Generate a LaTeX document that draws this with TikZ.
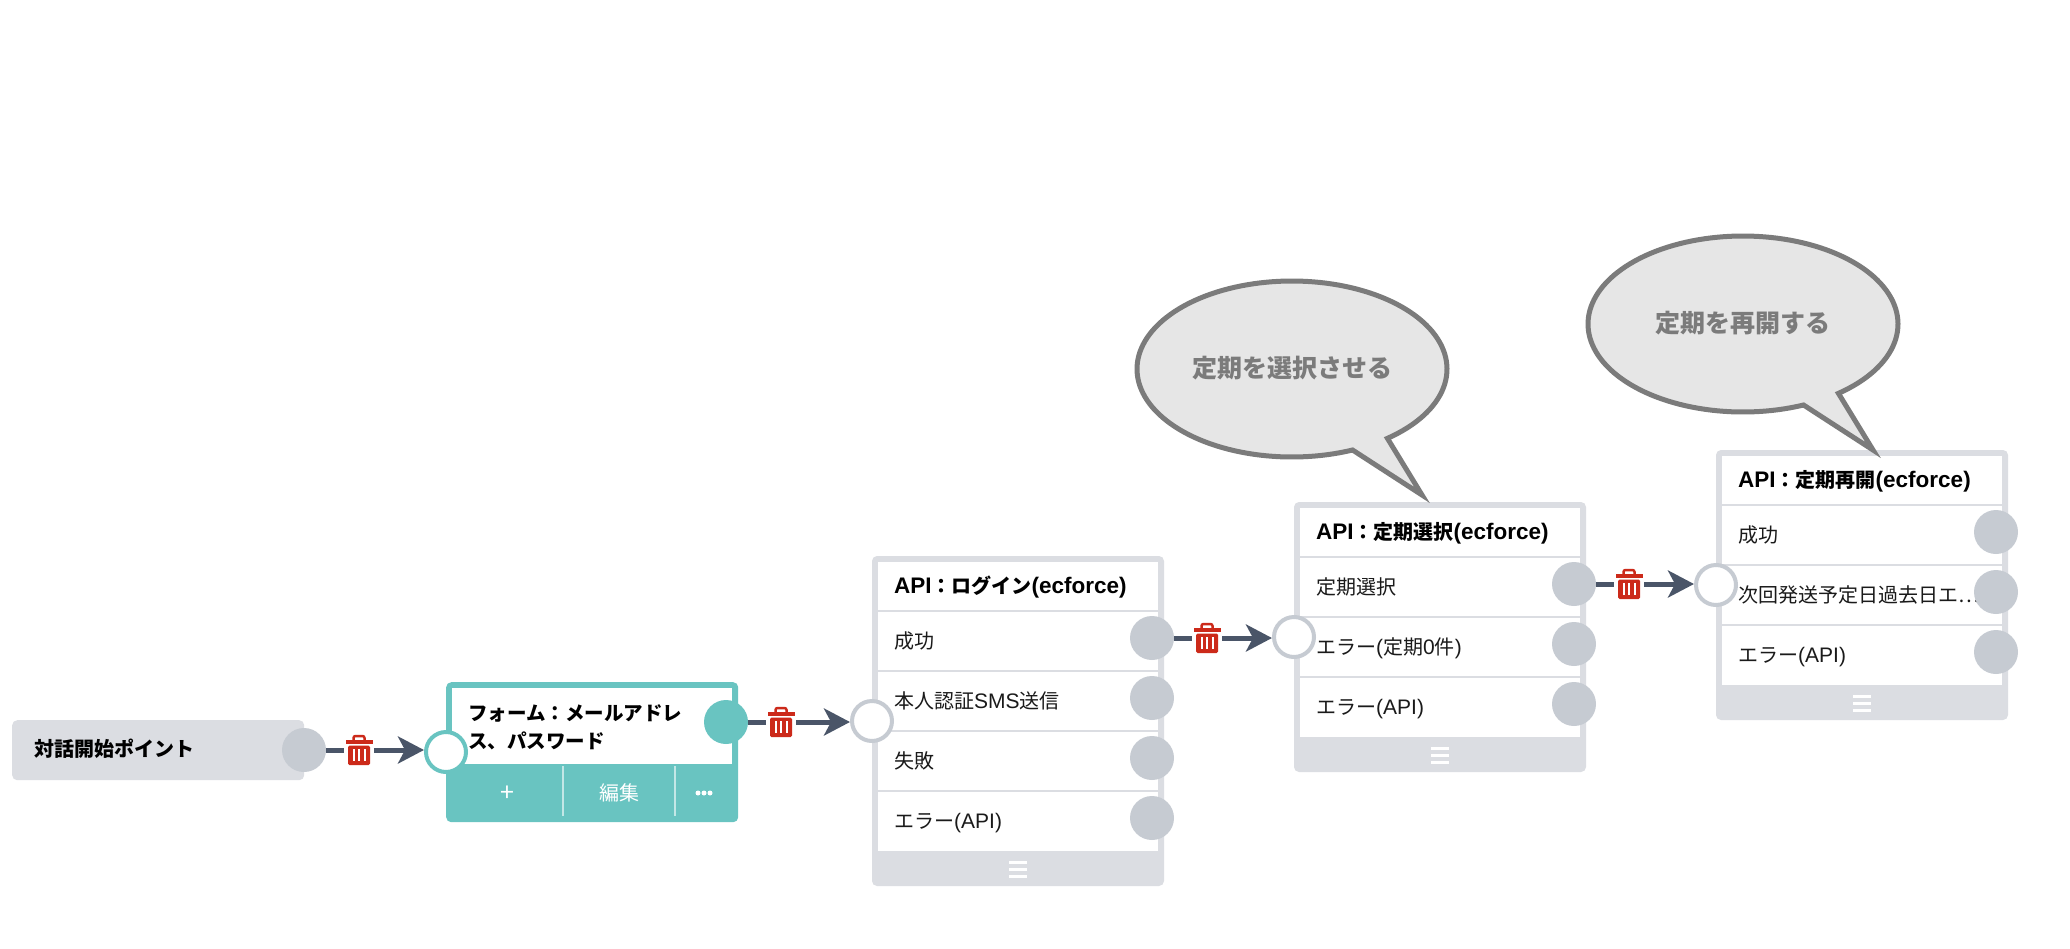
\documentclass[tikz,border=0pt]{standalone}
\usepackage{fontspec}
\setmainfont{Noto Sans CJK JP}
\newfontfamily\latfont{Liberation Sans}
\newcommand{\LR}[1]{{\latfont\fontsize{21pt}{28pt}\selectfont #1}}
\newcommand{\LB}[1]{{\latfont\bfseries\fontsize{22.5pt}{28pt}\selectfont #1}}
\usetikzlibrary{arrows.meta}
\definecolor{boxgrey}{HTML}{DBDDE2}
\definecolor{portgrey}{HTML}{C6CBD2}
\definecolor{teal1}{HTML}{69C4C1}
\definecolor{linkc}{HTML}{4A5568}
\definecolor{trashc}{HTML}{CC2A1A}
\definecolor{bubfill}{HTML}{E6E6E6}
\definecolor{bubline}{HTML}{7B7B7B}
\definecolor{inkc}{HTML}{1A1A1A}
\tikzset{
  txt/.style={font=\fontsize{20pt}{28pt}\selectfont, text=inkc, inner sep=0pt, anchor=west, text height=16pt, text depth=4pt},
  ttl/.style={txt, font=\fontsize{20pt}{28pt}\selectfont\bfseries, text=black},
  outport/.style={circle, fill=portgrey, minimum size=44pt, inner sep=0pt, outer sep=0pt},
  inport/.style={circle, fill=white, draw=portgrey, line width=4pt, minimum size=40pt, inner sep=0pt},
  frame/.style={rectangle, fill=boxgrey, rounded corners=5pt, anchor=north west, minimum width=292pt, inner sep=0pt, outer sep=0pt},
  sep/.style={boxgrey, line width=2pt},
  trashbox/.style={rectangle, minimum width=30pt, minimum height=30pt, inner sep=0pt, outer sep=0pt},
  wire/.style={linkc, line width=5pt},
  arrowwire/.style={wire, -{Stealth[length=26pt,width=27pt,inset=7pt]}},
  bubshape/.style={draw=bubline, fill=bubfill, line width=5pt, line join=miter, miter limit=10},
  bubtext/.style={font=\fontsize{25pt}{30pt}\selectfont\bfseries, text=bubline, inner sep=0pt},
  onteal/.style={font=\fontsize{20pt}{28pt}\selectfont, text=white, inner sep=0pt},
  tealsep/.style={draw=white!60!teal1, line width=1.5pt},
  dotmark/.style={circle, fill=white, minimum size=5pt, inner sep=0pt},
}
% API box: name, x, top, number of rows, title, rows
\newcommand{\apibox}[6]{%
  \pgfmathtruncatemacro{\bh}{60*#4+90}
  \node[frame, minimum height=\bh pt] (#1) at (#2,#3) {};
  \fill[white] ({#2+6},{#3+6}) rectangle ({#2+286},{#3+55+60*#4});
  \foreach \k in {0,...,#4}{\ifnum\k<#4\relax\draw[sep] ({#2+6},{#3+55+60*\k}) -- ({#2+286},{#3+55+60*\k});\fi}
  \node[ttl] (#1t) at ({#2+22},{#3+31}) {#5};
  \foreach \i/\t in {#6}{
    \node[txt] (#1r\i) at ({#2+22},{#3+26+60*\i}) {\t};
    \node[outport] (#1o\i) at ({#2+280},{#3+22+60*\i}) {};
  }
  \foreach \d in {-7,0,7}{\fill[white] ({#2+137},{#3+60*#4+73+\d-1.5}) rectangle ({#2+155},{#3+60*#4+73+\d+1.5});}
  \node[inport] (#1i) at (#2,{#3+45+30*#4}) {};
}
% trash icon: name, x, y
\newcommand{\trashicon}[3]{%
  \node[trashbox] (#1) at (#2,#3) {};
  \begin{scope}[shift={(#1.center)}]
    \draw[trashc, line width=2.5pt, rounded corners=2pt] (-5.5,-10) -- (-5.5,-14) -- (5.5,-14) -- (5.5,-10);
    \fill[trashc] (-13.5,-10) rectangle (13.5,-6.5);
    \fill[trashc, rounded corners=1.5pt] (-11,-4.5) rectangle (11,15);
    \foreach \s in {-5.5,0,5.5}{\fill[white] (\s-1,-1) rectangle (\s+1,11);}
  \end{scope}
}
% speech bubble: centre x, centre y
\newcommand{\bubble}[2]{%
  \begin{scope}[shift={(#1-1292,#2-369)}]
    \draw[bubshape] plot[domain=67:412, samples=140] ({1292+155*cos(\x)},{369+88*sin(\x)}) -- (1422,495) -- cycle;
  \end{scope}
}
\begin{document}
\begin{tikzpicture}[x=1pt,y=-1pt]
\useasboundingbox (0,0) rectangle (2070,948);
\fill[white] (0,0) rectangle (2070,948);

% start node
\node[rectangle, fill=boxgrey, rounded corners=5pt, anchor=north west, minimum width=292pt, minimum height=60pt, inner sep=0pt] (start) at (12,720) {};
\node[ttl] (startt) at (34,750) {対話開始ポイント};
\node[outport] (starto) at (304,750) {};

% form node
\node[rectangle, fill=teal1, rounded corners=5pt, anchor=north west, minimum width=292pt, minimum height=140pt, inner sep=0pt] (form) at (446,682) {};
\fill[white] (452,688) rectangle (732,764);
\node[ttl, align=left, text height=, text depth=, font=\fontsize{19.5pt}{28pt}\selectfont\bfseries] (formt) at (468,727) {フォーム：メールアドレ\\ス、パスワード};
\node[outport, fill=teal1] (formo) at (726,722) {};
\node[inport, draw=teal1] (formi) at (446,752) {};
\draw[tealsep] (563,766) -- (563,816);
\draw[tealsep] (675,766) -- (675,816);
\node[onteal, font=\fontsize{25pt}{28pt}\selectfont] (fplus) at (507,794) {+};
\node[onteal] (fedit) at (619,793) {編集};
\node[dotmark] (fd2) at (704,793) {};
\node[dotmark] (fd1) at (698,793) {};
\node[dotmark] (fd3) at (710,793) {};

% API boxes
\apibox{lg}{872}{556}{4}{\LB{API}：ログイン\LB{(ecforce)}}{1/成功,2/本人認証\LR{SMS}送信,3/失敗,4/{エラー\LR{(API)}}}
\apibox{se}{1294}{502}{3}{\LB{API}：定期選択\LB{(ecforce)}}{1/定期選択,2/{エラー\LR{(}定期\LR{0}件\LR{)}},3/{エラー\LR{(API)}}}
\apibox{re}{1716}{450}{3}{\LB{API}：定期再開\LB{(ecforce)}}{1/成功,2/次回発送予定日過去日エ⋯,3/{エラー\LR{(API)}}}

% connectors
\trashicon{t1}{359}{750}
\draw[wire] (starto.east) -- (t1.west);
\draw[arrowwire] (t1.east) -- (t1.east -| formi.west);
\trashicon{t2}{781}{722}
\draw[wire] (formo.east) -- (t2.west);
\draw[arrowwire] (t2.east) -- (t2.east -| lgi.west);
\trashicon{t3}{1207}{638}
\draw[wire] (lgo1.east) -- (t3.west);
\draw[arrowwire] (t3.east) -- (t3.east -| sei.west);
\trashicon{t4}{1629}{584}
\draw[wire] (seo1.east) -- (t4.west);
\draw[arrowwire] (t4.east) -- (t4.east -| rei.west);

% bubbles
\bubble{1292}{369}
\node[bubtext] (b1) at (1292,368) {定期を選択させる};
\bubble{1743}{324}
\node[bubtext] (b2) at (1743,323) {定期を再開する};
\end{tikzpicture}
\end{document}
